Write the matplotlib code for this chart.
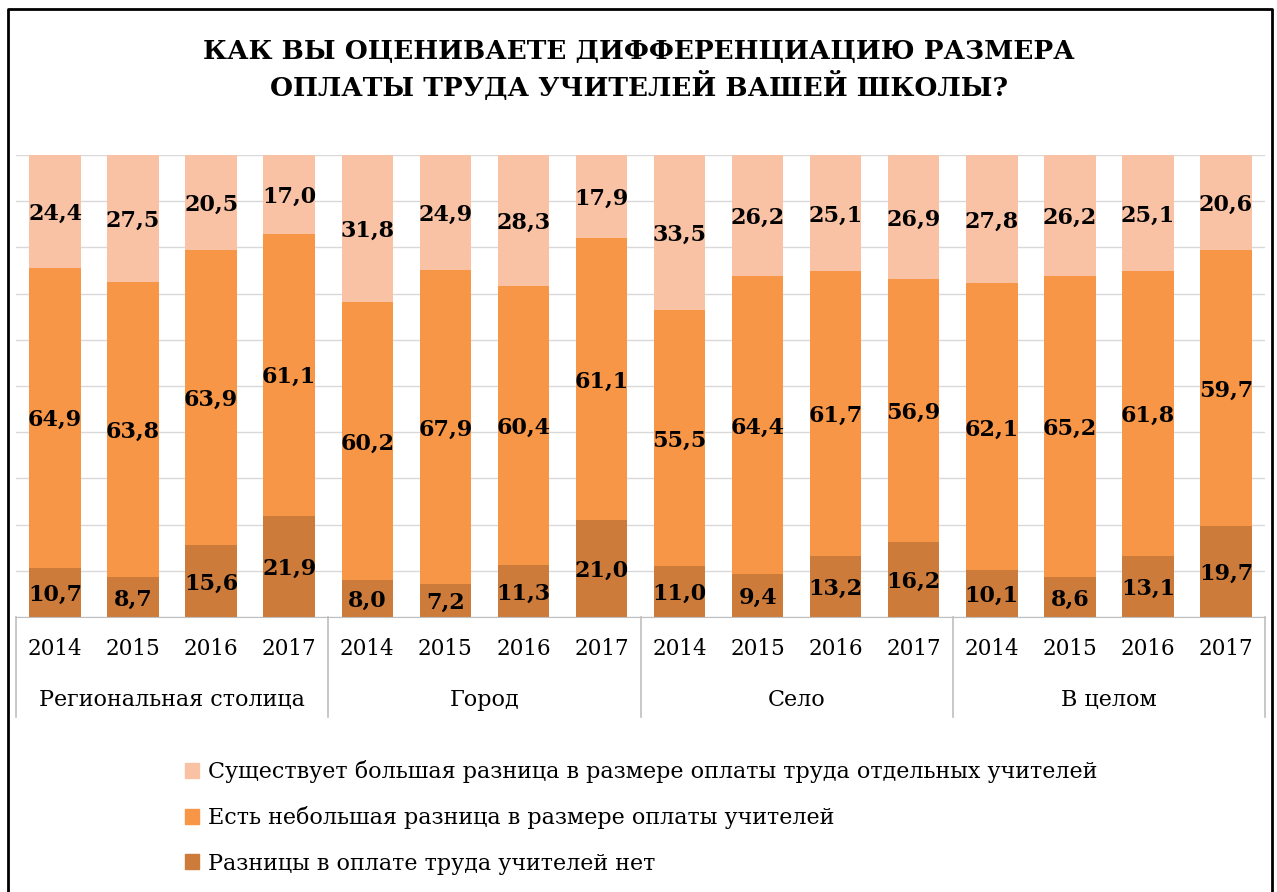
import matplotlib.pyplot as plt
import numpy as np
from matplotlib.lines import Line2D
from matplotlib.patches import Patch

# data: share of answers, %
groups = ['Региональная столица', 'Город', 'Село', 'В целом']
years = ['2014', '2015', '2016', '2017']

big_diff = [24.4, 27.5, 20.5, 17.0, 31.8, 24.9, 28.3, 17.9,
            33.5, 26.2, 25.1, 26.9, 27.8, 26.2, 25.1, 20.6]
small_diff = [64.9, 63.8, 63.9, 61.1, 60.2, 67.9, 60.4, 61.1,
              55.5, 64.4, 61.7, 56.9, 62.1, 65.2, 61.8, 59.7]
no_diff = [10.7, 8.7, 15.6, 21.9, 8.0, 7.2, 11.3, 21.0,
           11.0, 9.4, 13.2, 16.2, 10.1, 8.6, 13.1, 19.7]

labels = ['Существует большая разница в размере оплаты труда отдельных учителей',
          'Есть небольшая разница в размере оплаты учителей',
          'Разницы в оплате труда учителей нет']
colors = ['#F9C2A5', '#F79646', '#CC7B3B']

plt.rcParams['font.family'] = ['DejaVu Serif']

W, H = 1277, 892
fig = plt.figure(figsize=(W / 100, H / 100), dpi=100)
ax = fig.add_axes([16 / W, 1 - 617 / H, (1265 - 16) / W, (617 - 155) / H])

x = np.arange(len(no_diff))
bw = 0.66
no_arr = np.array(no_diff)
small_arr = np.array(small_diff)
big_arr = np.array(big_diff)

ax.bar(x, no_arr, bw, color=colors[2], zorder=2)
ax.bar(x, small_arr, bw, bottom=no_arr, color=colors[1], zorder=2)
ax.bar(x, big_arr, bw, bottom=no_arr + small_arr, color=colors[0], zorder=2)

# value labels in the middle of each segment
for i in range(len(x)):
    for val, base in [(no_arr[i], 0), (small_arr[i], no_arr[i]),
                      (big_arr[i], no_arr[i] + small_arr[i])]:
        ax.text(x[i], base + val / 2, f'{val:.1f}'.replace('.', ','),
                ha='center', va='center_baseline', fontsize=16,
                fontweight='bold', color='black', zorder=3)

ax.set_xlim(-0.5, len(x) - 0.5)
ax.set_ylim(0, 100)
ax.set_yticks(np.arange(0, 101, 10))
ax.yaxis.grid(True, color='#D9D9D9', linewidth=1)
ax.tick_params(axis='y', left=False, labelleft=False)
for s in ['top', 'right', 'left']:
    ax.spines[s].set_visible(False)
ax.spines['bottom'].set_color('#BFBFBF')

# two-level category axis
ax.set_xticks(x)
ax.set_xticklabels(years * len(groups), fontsize=15.5)
ax.tick_params(axis='x', length=0, pad=15)
trans = ax.get_xaxis_transform()
for k, g in enumerate(groups):
    ax.text(4 * k + 1.5, -0.179, g, transform=trans, ha='center', va='center',
            fontsize=16)
for b in np.arange(-0.5, len(x), 4):
    ax.plot([b, b], [0, -0.216], transform=trans, color='#BFBFBF',
            linewidth=1.2, clip_on=False)

fig.text(0.5, 1 - 70 / H,
         'КАК ВЫ ОЦЕНИВАЕТЕ ДИФФЕРЕНЦИАЦИЮ РАЗМЕРА\nОПЛАТЫ ТРУДА УЧИТЕЛЕЙ ВАШЕЙ ШКОЛЫ?',
         ha='center', va='center', fontsize=19, fontweight='bold',
         linespacing=1.3)

handles = [Patch(color=c) for c in colors]
fig.legend(handles, labels, loc='upper left', bbox_to_anchor=(165 / W, 1 - 740 / H),
           frameon=False, fontsize=16, handlelength=0.65, handleheight=0.65,
           handletextpad=0.4, labelspacing=1.05)

# outer frame (bottom edge is cut off)
fig.add_artist(Line2D([7.5 / W, 7.5 / W, 1271.5 / W, 1271.5 / W],
                      [0, 1 - 8.5 / H, 1 - 8.5 / H, 0],
                      transform=fig.transFigure, color='black', linewidth=2))

fig.savefig('out.png', dpi=100)
